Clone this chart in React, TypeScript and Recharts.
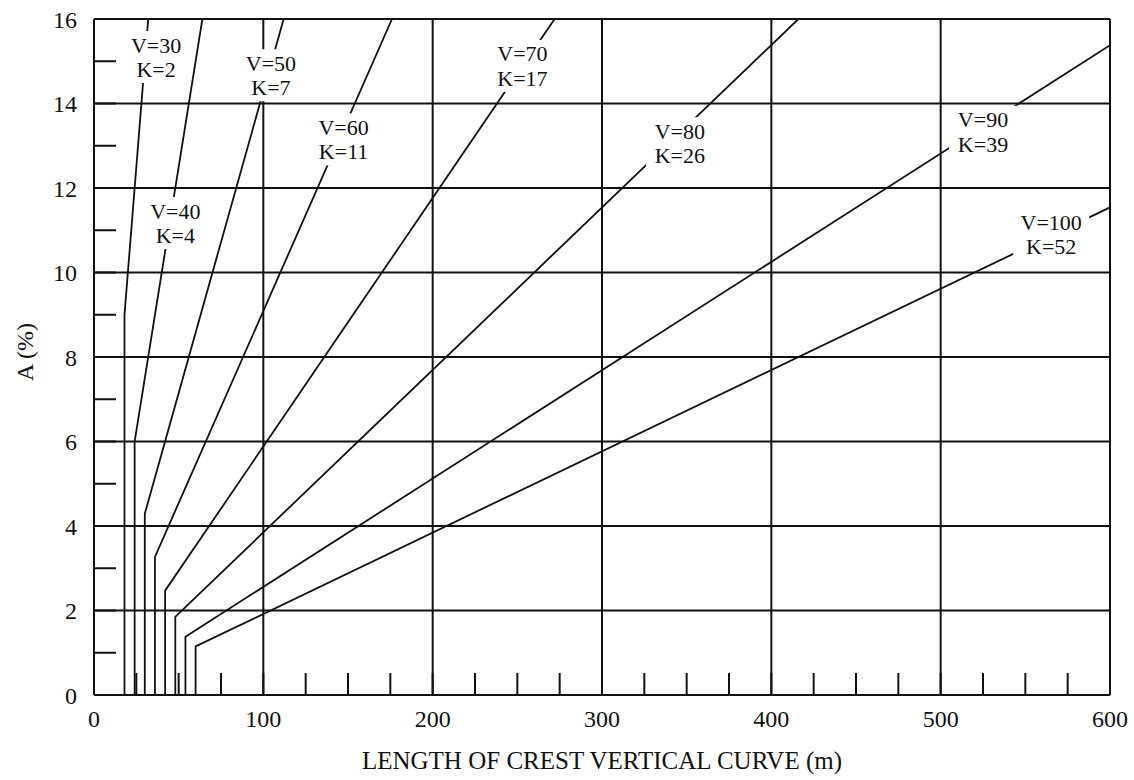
import React from 'react'
import {
  ComposedChart,
  Line,
  XAxis,
  YAxis,
  CartesianGrid,
  ReferenceDot,
} from 'recharts'

// design speed / K curves: [L, A] breakpoints (min length vertical, then L = K*A)
const v30 = [{ x: 18, y: 0 }, { x: 18, y: 9 }, { x: 32, y: 16 }]
const v40 = [{ x: 24, y: 0 }, { x: 24, y: 6 }, { x: 64, y: 16 }]
const v50 = [{ x: 30, y: 0 }, { x: 30, y: 4.29 }, { x: 112, y: 16 }]
const v60 = [{ x: 36, y: 0 }, { x: 36, y: 3.27 }, { x: 176, y: 16 }]
const v70 = [{ x: 42, y: 0 }, { x: 42, y: 2.47 }, { x: 272, y: 16 }]
const v80 = [{ x: 48, y: 0 }, { x: 48, y: 1.85 }, { x: 416, y: 16 }]
const v90 = [{ x: 54, y: 0 }, { x: 54, y: 1.38 }, { x: 600, y: 15.38 }]
const v100 = [{ x: 60, y: 0 }, { x: 60, y: 1.15 }, { x: 600, y: 11.54 }]

const curves = [v30, v40, v50, v60, v70, v80, v90, v100]

const labels = [
  { x: 36.7, y: 15.1, v: 'V=30', k: 'K=2' },
  { x: 48, y: 11.17, v: 'V=40', k: 'K=4' },
  { x: 104.5, y: 14.67, v: 'V=50', k: 'K=7' },
  { x: 147.4, y: 13.15, v: 'V=60', k: 'K=11' },
  { x: 253, y: 14.89, v: 'V=70', k: 'K=17' },
  { x: 346, y: 13.06, v: 'V=80', k: 'K=26' },
  { x: 525, y: 13.33, v: 'V=90', k: 'K=39' },
  { x: 565.3, y: 10.9, v: 'V=100', k: 'K=52' },
]

const xTicks = [0, 25, 50, 75, 100, 125, 150, 175, 200, 225, 250, 275, 300, 325, 350, 375, 400, 425, 450, 475, 500, 525, 550, 575, 600]
const yTicks = [0, 1, 2, 3, 4, 5, 6, 7, 8, 9, 10, 11, 12, 13, 14, 15, 16]
const xGrid = [0, 100, 200, 300, 400, 500, 600]
const yGrid = [0, 2, 4, 6, 8, 10, 12, 14, 16]

const FONT = '"Liberation Serif", "Times New Roman", serif'
const INK = '#111'

const LabelBox = (props: any) => {
  const { cx, cy, v, k } = props
  const w = v.length > 4 ? 76 : 68
  return (
    <g>
      <rect x={cx - w / 2} y={cy - 26} width={w} height={52} fill="#fff" />
      <text x={cx} y={cy - 4.5} textAnchor="middle" fontFamily={FONT} fontSize={22} fill={INK}>
        {v}
      </text>
      <text x={cx} y={cy + 20} textAnchor="middle" fontFamily={FONT} fontSize={22} fill={INK}>
        {k}
      </text>
    </g>
  )
}

export default function App() {
  const tickStyle = { fontFamily: FONT, fontSize: 24, fill: INK }
  return (
    <div style={{ position: 'absolute', left: 0, top: 0, background: '#fff' }}>
      <ComposedChart
        width={1134}
        height={780}
        margin={{ top: 19, right: 24, bottom: 0, left: 0 }}
      >
        <CartesianGrid
          stroke={INK}
          strokeWidth={2}
          horizontalValues={yGrid}
          verticalValues={xGrid}
        />
        <XAxis
          type="number"
          dataKey="x"
          domain={[0, 600]}
          ticks={xTicks}
          interval={0}
          allowDataOverflow
          height={85}
          tickSize={-22}
          tickMargin={37}
          tickLine={{ stroke: INK, strokeWidth: 2 }}
          axisLine={{ stroke: INK, strokeWidth: 2 }}
          tick={tickStyle}
          tickFormatter={(t: number) => (t % 100 === 0 ? String(t) : '')}
          label={{
            content: (p: any) => {
              const vb = p.viewBox
              return (
                <text
                  x={vb.x + vb.width / 2}
                  y={769}
                  textAnchor="middle"
                  fontFamily={FONT}
                  fontSize={25}
                  fill={INK}
                >
                  LENGTH OF CREST VERTICAL CURVE (m)
                </text>
              )
            },
          }}
        />
        <YAxis
          type="number"
          dataKey="y"
          domain={[0, 16]}
          ticks={yTicks}
          interval={0}
          allowDataOverflow
          width={94}
          tickSize={-22}
          tickMargin={39}
          tickLine={{ stroke: INK, strokeWidth: 2 }}
          axisLine={{ stroke: INK, strokeWidth: 2 }}
          tick={tickStyle}
          tickFormatter={(t: number) => (t % 2 === 0 ? String(t) : '')}
          label={{
            content: () => (
              <text
                x={33}
                y={352}
                textAnchor="middle"
                transform="rotate(-90, 33, 352)"
                fontFamily={FONT}
                fontSize={24}
                fill={INK}
              >
                A (%)
              </text>
            ),
          }}
        />
        {curves.map((c, i) => (
          <Line
            key={i}
            data={c}
            dataKey="y"
            type="linear"
            stroke={INK}
            strokeWidth={1.8}
            dot={false}
            activeDot={false}
            isAnimationActive={false}
          />
        ))}
        {labels.map((l) => (
          <ReferenceDot
            key={l.v}
            x={l.x}
            y={l.y}
            r={0}
            ifOverflow="visible"
            shape={(p: any) => <LabelBox {...p} v={l.v} k={l.k} />}
          />
        ))}
      </ComposedChart>
    </div>
  )
}
